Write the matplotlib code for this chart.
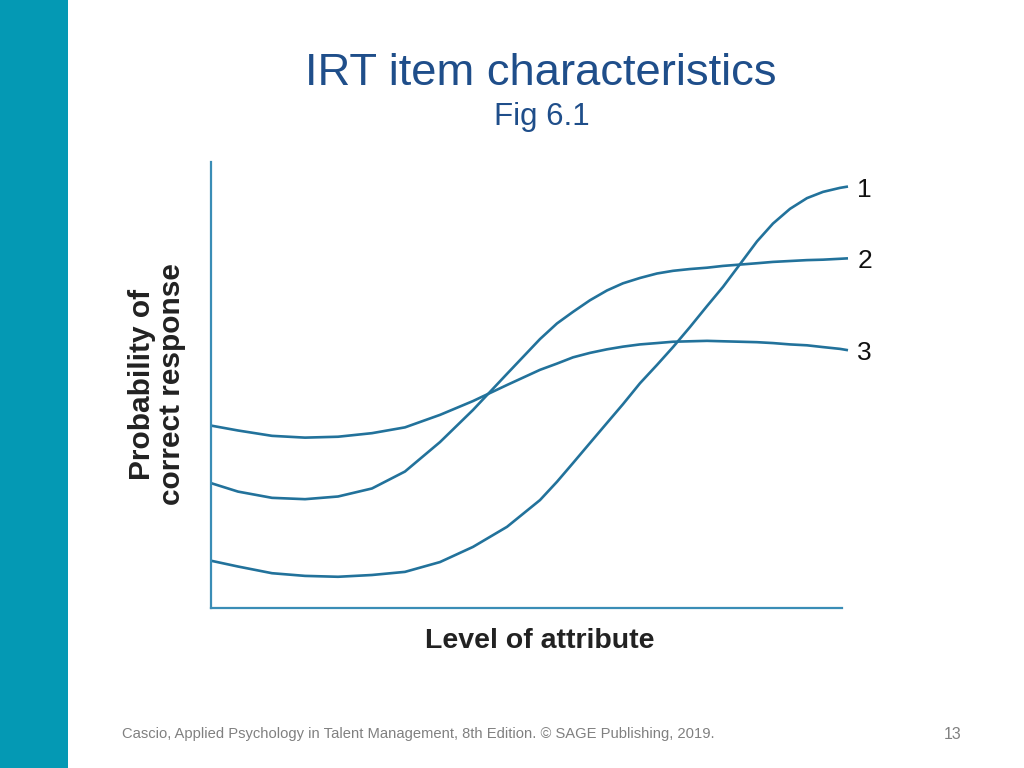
import matplotlib
matplotlib.use("Agg")
import matplotlib.pyplot as plt
from matplotlib.patches import Rectangle

# ---- data ----
level = [0.000, 0.428, 0.967, 1.490, 2.013, 2.551, 3.074, 3.629, 4.152, 4.691,
         5.214, 5.483, 5.737, 6.006, 6.276, 6.529, 6.799, 7.068, 7.322, 7.591,
         7.861, 8.114, 8.384, 8.653, 8.906, 9.176, 9.445, 9.699, 9.968, 10.095]
item1 = [0.106, 0.093, 0.078, 0.072, 0.070, 0.074, 0.081, 0.103, 0.137, 0.182,
         0.242, 0.283, 0.325, 0.370, 0.415, 0.457, 0.504, 0.545, 0.585, 0.630,
         0.677, 0.720, 0.771, 0.822, 0.862, 0.895, 0.919, 0.933, 0.942, 0.945]
item2 = [0.280, 0.261, 0.247, 0.244, 0.250, 0.268, 0.306, 0.372, 0.444, 0.525,
         0.603, 0.638, 0.664, 0.690, 0.712, 0.728, 0.740, 0.750, 0.756, 0.760,
         0.763, 0.767, 0.770, 0.773, 0.776, 0.778, 0.780, 0.781, 0.783, 0.784]
item3 = [0.409, 0.398, 0.386, 0.382, 0.384, 0.392, 0.405, 0.433, 0.464, 0.500,
         0.534, 0.548, 0.562, 0.572, 0.580, 0.586, 0.591, 0.594, 0.597, 0.598,
         0.599, 0.598, 0.597, 0.596, 0.594, 0.591, 0.589, 0.585, 0.581, 0.578]
item_labels = ["1", "2", "3"]

title = "IRT item characteristics"
subtitle = "Fig 6.1"
xlabel = "Level of attribute"
ylabel = "Probability of\ncorrect response"
footer = "Cascio, Applied Psychology in Talent Management, 8th Edition. \u00a9 SAGE Publishing, 2019."
page = "13"

plt.rcParams['font.family'] = ['Liberation Sans', 'DejaVu Sans']

fig = plt.figure(figsize=(10.24, 7.68), dpi=100)
fig.patch.set_facecolor("white")

# left teal sidebar
fig.add_artist(Rectangle((0, 0), 68 / 1024, 1, transform=fig.transFigure,
                         facecolor="#0499B4", edgecolor="none"))

curve_color = "#22729B"
axis_color = "#3A8DB6"

ax = fig.add_axes([211 / 1024, (768 - 608) / 768, 631 / 1024, 446 / 768])
for series, lab in zip([item1, item2, item3], item_labels):
    ax.plot(level, series, color=curve_color, lw=1.9, clip_on=False,
            solid_capstyle="butt", solid_joinstyle="round")
    ax.text(10.24, series[-1] - 0.007, lab, ha="left", va="center", fontsize=19,
            color="#111111")

ax.set_xlim(0, 10)
ax.set_ylim(0, 1)
ax.set_xticks([])
ax.set_yticks([])
for s in ["top", "right"]:
    ax.spines[s].set_visible(False)
for s in ["left", "bottom"]:
    ax.spines[s].set_color(axis_color)
    ax.spines[s].set_linewidth(1.6)
ax.patch.set_alpha(0)

ax.set_xlabel(xlabel, fontsize=20.5, fontweight="bold", color="#222222",
              va="baseline")
ax.xaxis.set_label_coords((540 - 211) / 631, (608 - 648) / 446)
ax.set_ylabel(ylabel, fontsize=21.5, fontweight="bold", color="#222222",
              linespacing=1.05, va="center", ha="center")
ax.yaxis.set_label_coords((157 - 211) / 631, (608 - 384) / 446)

fig.text(541 / 1024, 1 - 85 / 768, title, ha="center", va="baseline",
         fontsize=32.7, color="#1F4E8A")
fig.text(542 / 1024, 1 - 125.5 / 768, subtitle, ha="center", va="baseline",
         fontsize=22.5, color="#1F4E8A")
fig.text(122 / 1024, 1 - 738 / 768, footer, ha="left", va="baseline",
         fontsize=10.6, color="#808080")
fig.text(953 / 1024, 1 - 739 / 768, page, ha="center", va="baseline",
         fontsize=11.5, color="#808080")

fig.savefig("out.png", dpi=100)
